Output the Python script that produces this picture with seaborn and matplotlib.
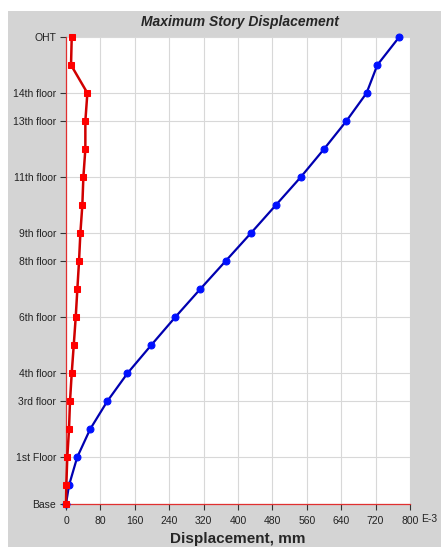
import numpy as np
import pandas as pd
import matplotlib
matplotlib.use("Agg")
import matplotlib.pyplot as plt
import seaborn as sns
from matplotlib.patches import Rectangle

# ---- data ----
levels = ["Base", "Plinth", "1st Floor", "2nd floor", "3rd floor", "4th floor",
          "5th floor", "6th floor", "7th floor", "8th floor", "9th floor",
          "10th floor", "11th floor", "12th floor", "13th floor", "14th floor",
          "15th floor", "OHT"]
elevation = [0, 2, 5, 8, 11, 14, 17, 20, 23, 26, 29, 32, 35, 38, 41, 44, 47, 50]

# displacement in E-3 mm
disp_x = [0, 7, 26, 56, 96, 143, 198, 254, 312, 371, 430, 488, 546, 600,
          652, 699, 724, 775]
disp_y = [0, 0.7, 3, 7, 9.3, 13.3, 18, 22.6, 26.4, 30.3, 33.4, 38, 40.4,
          45, 45, 49.7, 11.7, 13.3]

shown_labels = ["Base", "1st Floor", "3rd floor", "4th floor", "6th floor",
                "8th floor", "9th floor", "11th floor", "13th floor",
                "14th floor", "OHT"]
x_ticks = [0, 80, 160, 240, 320, 400, 480, 560, 640, 720, 800]

df = pd.DataFrame({"level": levels, "elev": elevation,
                   "ux": disp_x, "uy": disp_y})

# ---- style ----
sns.set_style("white")
plt.rcParams["font.family"] = ["Liberation Sans", "DejaVu Sans"]

fig = plt.figure(figsize=(4.41, 5.47), dpi=100, facecolor="white")
fig.add_artist(Rectangle((8 / 441, 0), 1, 1 - 11 / 547,
                         transform=fig.transFigure, facecolor="#d4d4d4",
                         edgecolor="none", zorder=-5))

ax = fig.add_axes([66 / 441, 1 - 504 / 547, (410 - 66) / 441, (504 - 37) / 547])
ax.set_zorder(1)
ax.set_facecolor("white")

# orient="y": connect the points storey by storey
sns.lineplot(data=df, x="ux", y="elev", orient="y", estimator=None, ax=ax,
             color="#0000b0", lw=1.6, marker="o", markersize=5,
             markerfacecolor="#0010ff", markeredgecolor="#0010ff",
             clip_on=False, zorder=3)
sns.lineplot(data=df, x="uy", y="elev", orient="y", estimator=None, ax=ax,
             color="#d00000", lw=1.8, marker="s", markersize=5,
             markerfacecolor="#ff0000", markeredgecolor="#ff0000",
             clip_on=False, zorder=4)

ax.set_xlim(0, 800)
ax.set_ylim(0, 50)
ax.set_xticks(x_ticks)
ax.set_xticklabels([str(t) for t in x_ticks], fontsize=7.5, color="#222222")
tick_pos = [elevation[levels.index(l)] for l in shown_labels]
ax.set_yticks(tick_pos)
ax.set_yticklabels(shown_labels, fontsize=7.5, color="#222222")
ax.tick_params(axis="both", direction="out", length=4, width=0.8,
               color="#333333", left=True, bottom=True)
ax.tick_params(axis="x", pad=5)
ax.tick_params(axis="y", pad=3)

ax.grid(True, color="#d8d8d8", lw=0.8)
ax.set_axisbelow(True)
for s in ["top", "right"]:
    ax.spines[s].set_visible(False)
for s in ["left", "bottom"]:
    ax.spines[s].set_color("#e03030")
    ax.spines[s].set_linewidth(0.9)

ax.set_xlabel("Displacement, mm", fontsize=11, fontweight="bold", labelpad=4)
ax.set_ylabel("")
fig.text(240 / 441, 1 - 22 / 547, "Maximum Story Displacement", fontsize=10,
         fontweight="bold", fontstyle="italic", ha="center", va="center")
fig.text(421 / 441, 1 - 519 / 547, "E-3", fontsize=7.5, color="#222222",
         ha="left", va="center")

fig.savefig("out.png", dpi=100, facecolor=fig.get_facecolor())
